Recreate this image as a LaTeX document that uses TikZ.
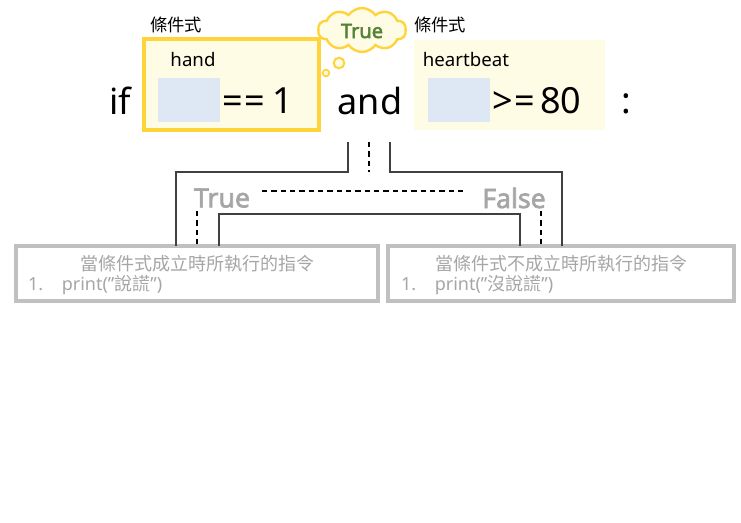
\documentclass[tikz,border=0pt]{standalone}
\usepackage{fontspec}
\setmainfont{Noto Sans}[AutoFakeBold=2.5]
\newfontfamily\cjk{Noto Sans CJK TC}
\usetikzlibrary{shapes.symbols}
\definecolor{ylw}{HTML}{FFD43B}
\definecolor{ylwfill}{HTML}{FFFCE5}
\definecolor{bluefill}{HTML}{DDE8F4}
\definecolor{linegray}{HTML}{404040}
\definecolor{txtgray}{HTML}{A6A6A6}
\definecolor{boxgray}{HTML}{C0C0C0}
\definecolor{grn}{HTML}{548235}
\begin{document}
\begin{tikzpicture}[x=0.75pt,y=-0.75pt,
  every node/.style={inner sep=0pt, outer sep=0pt},
  bigtxt/.style={font=\fontsize{27}{30}\selectfont},
  midtxt/.style={font=\fontsize{14}{16}\selectfont},
  lbl/.style={font=\cjk\fontsize{13}{15}\selectfont},
  slot/.style={fill=bluefill, minimum width=46.5pt, minimum height=33pt},
  resbox/.style={draw=boxgray, line width=2.4pt, fill=white, minimum height=41.25pt},
  restxt/.style={text=txtgray, font=\fontsize{13.5}{16}\selectfont},
  branch/.style={text=txtgray, font=\bfseries\fontsize{20}{24}\selectfont},
  conn/.style={draw=linegray, line width=1.1pt},
  dconn/.style={draw=black, line width=0.8pt, dash pattern=on 4pt off 3pt}]
\useasboundingbox (0,0) rectangle (741,522);
% condition boxes
\node[draw=ylw, line width=2.4pt, fill=ylwfill, minimum width=131.25pt, minimum height=68.25pt] (c1) at (231.5,84.5) {};
\node[fill=ylwfill, minimum width=143.25pt, minimum height=67.5pt] (c2) at (509.5,85) {};
\node[slot] (s1) at (189,100) {};
\node[slot] (s2) at (459,99.5) {};
\node[lbl] (l1) at (176,25) {條件式};
\node[lbl] (l2) at (440,25) {條件式};
\node[midtxt] (hand) at (193,59) {hand};
\node[midtxt] (hb) at (466,59) {heartbeat};
\node[bigtxt] (if) at (120,101) {if};
\node[bigtxt] (eq) at (258,101) {=\kern1pt=\hspace{6pt}1};
\node[bigtxt] (and) at (370,101) {and};
\node[bigtxt] (ge) at (537,101) {>\kern1pt=\hspace{4pt}80};
\node[bigtxt] (colon) at (626,104) {:};
% thought cloud
\node[cloud, cloud puffs=10, cloud puff arc=110, aspect=2, draw=ylw, line width=1.8pt, fill=ylwfill, minimum width=66pt, minimum height=33pt] (cloud) at (362,30) {};
\node[text=grn, font=\bfseries\fontsize{15}{18}\selectfont] (tr) at (362,31) {True};
\node[circle, draw=ylw, line width=1.5pt, fill=ylwfill, minimum size=8pt] (p1) at (339,63) {};
\node[circle, draw=ylw, line width=1.3pt, fill=ylwfill, minimum size=5pt] (p2) at (326,73) {};
% result boxes
\node[resbox, minimum width=271.5pt] (bl) at (197,273.5) {};
\node[resbox, minimum width=259.5pt] (br) at (561,273.5) {};
\node[restxt] (blt) at (197,264) {\cjk 當條件式成立時所執行的指令};
\node[restxt, anchor=west] (bl1) at (28,285) {1.\hspace{14pt}print(\char34{\cjk 說謊}\char34)};
\node[restxt] (brt) at (561,264) {\cjk 當條件式不成立時所執行的指令};
\node[restxt, anchor=west] (br1) at (401,285) {1.\hspace{14pt}print(\char34{\cjk 沒說謊}\char34)};
% branch labels
\node[branch] (bt) at (222,198) {True};
\node[branch] (bf) at (514,198) {False};
% connector points
\coordinate (tL) at (348,142);
\coordinate (tC) at (369,142);
\coordinate (tR) at (390,142);
\coordinate (oL) at (176,172);
\coordinate (oR) at (562,172);
\coordinate (iL) at (219,214);
\coordinate (iR) at (520,214);
\coordinate (cD) at (369,172);
\coordinate (hL) at (262,191);
\coordinate (hR) at (467,191);
\coordinate (dL) at (197,211);
\coordinate (dR) at (541,211);
\draw[conn] (tL) |- (oL) -- (oL |- bl.north);
\draw[conn] (tR) |- (oR) -- (oR |- br.north);
\draw[conn] (iL |- bl.north) -- (iL) -- (iR) -- (iR |- br.north);
\draw[dconn] (tC) -- (cD);
\draw[dconn] (hL) -- (hR);
\draw[dconn] (dL) -- (dL |- bl.north);
\draw[dconn] (dR) -- (dR |- br.north);
\end{tikzpicture}
\end{document}
